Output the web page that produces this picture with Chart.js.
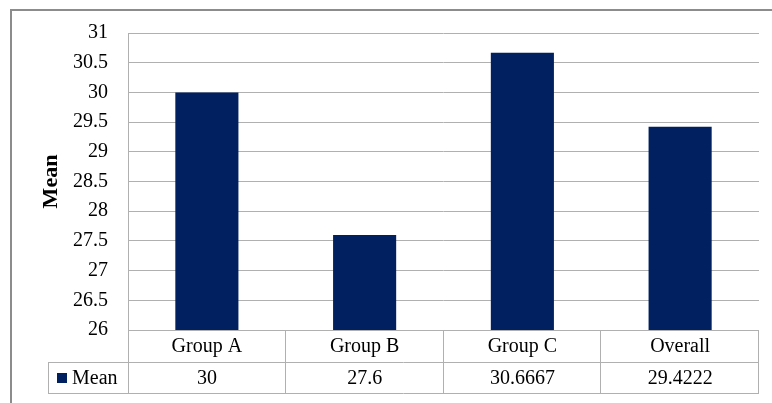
<!DOCTYPE html>
<html>
<head>
<meta charset="utf-8">
<script src="https://cdn.jsdelivr.net/npm/chart.js@4"></script>
<style>
  html, body { margin: 0; padding: 0; background: #fff; }
  #wrap { position: relative; width: 772px; height: 403px; }
</style>
</head>
<body>
<div id="wrap"><canvas id="chart" width="772" height="403"></canvas></div>
<script>
// data
const categories = ['Group A', 'Group B', 'Group C', 'Overall'];
const meanValues = [30, 27.6, 30.6667, 29.4222];
const tableLabels = ['30', '27.6', '30.6667', '29.4222'];
const seriesName = 'Mean';

const BAR_COLOR = '#002060';
const LINE_COLOR = '#b0b0b0';
const FONT = '"Liberation Serif", "Times New Roman", serif';
const FONT_SIZE = 20;

// draws the outer frame, the data table under the axis and the legend key
const tablePlugin = {
  id: 'dataTable',
  afterDraw(chart) {
    const ctx = chart.ctx;
    const x = chart.scales.x;
    const area = chart.chartArea;
    const rowH = 32;
    const y0 = area.bottom;
    const y1 = y0 + rowH;
    const y2 = y1 + rowH - 1;
    const legendLeft = 48;

    ctx.save();
    // outer frame
    ctx.strokeStyle = '#8c8c8c';
    ctx.lineWidth = 2;
    ctx.beginPath();
    ctx.moveTo(11, 403);
    ctx.lineTo(11, 10);
    ctx.lineTo(772, 10);
    ctx.stroke();

    ctx.strokeStyle = LINE_COLOR;
    ctx.lineWidth = 1;
    ctx.beginPath();
    // horizontal rows
    ctx.moveTo(area.left, y0 + 0.5); ctx.lineTo(area.right, y0 + 0.5);
    ctx.moveTo(legendLeft, y1 + 0.5); ctx.lineTo(area.right, y1 + 0.5);
    ctx.moveTo(legendLeft, y2 + 0.5); ctx.lineTo(area.right, y2 + 0.5);
    // left axis line down through the table
    ctx.moveTo(area.left + 0.5, area.top); ctx.lineTo(area.left + 0.5, y2);
    ctx.moveTo(legendLeft + 0.5, y1); ctx.lineTo(legendLeft + 0.5, y2);
    // category boundaries
    const step = (area.right - area.left) / categories.length;
    for (let i = 1; i <= categories.length; i++) {
      const bx = Math.round(area.left + step * i) - 0.5;
      ctx.moveTo(bx, y0); ctx.lineTo(bx, y2);
    }
    ctx.stroke();

    // values row
    ctx.fillStyle = '#000';
    ctx.font = FONT_SIZE + 'px ' + FONT;
    ctx.textAlign = 'center';
    ctx.textBaseline = 'middle';
    tableLabels.forEach((t, i) => {
      ctx.fillText(t, x.getPixelForValue(i), (y1 + y2) / 2 + 1);
    });

    // legend key
    ctx.fillStyle = BAR_COLOR;
    ctx.fillRect(57, y1 + 11, 10, 10);
    ctx.fillStyle = '#000';
    ctx.textAlign = 'left';
    ctx.fillText(seriesName, 72, (y1 + y2) / 2 + 1);
    ctx.restore();
  }
};

new Chart(document.getElementById('chart'), {
  type: 'bar',
  data: {
    labels: categories,
    datasets: [{
      label: seriesName,
      data: meanValues,
      backgroundColor: BAR_COLOR,
      categoryPercentage: 0.4,
      barPercentage: 1.0
    }]
  },
  options: {
    responsive: false,
    animation: false,
    layout: { padding: { left: 38, top: 33, right: 13, bottom: 10 } },
    plugins: {
      legend: { display: false },
      tooltip: { enabled: false }
    },
    scales: {
      x: {
        grid: { display: false, drawTicks: false },
        border: { display: false },
        ticks: {
          color: '#000',
          font: { family: FONT, size: FONT_SIZE },
          padding: 5
        },
        afterFit(scale) { scale.height = 63; }
      },
      y: {
        min: 26,
        max: 31,
        ticks: {
          stepSize: 0.5,
          color: '#000',
          font: { family: FONT, size: FONT_SIZE },
          padding: 20,
          callback: (v) => String(Number(v))
        },
        grid: { color: LINE_COLOR, drawTicks: false },
        border: { display: false },
        title: {
          display: true,
          text: 'Mean',
          color: '#000',
          font: { family: FONT, size: 22, weight: 'bold' },
          padding: 0
        },
        afterFit(scale) { scale.width = 90; }
      }
    }
  },
  plugins: [tablePlugin]
});
</script>
</body>
</html>
